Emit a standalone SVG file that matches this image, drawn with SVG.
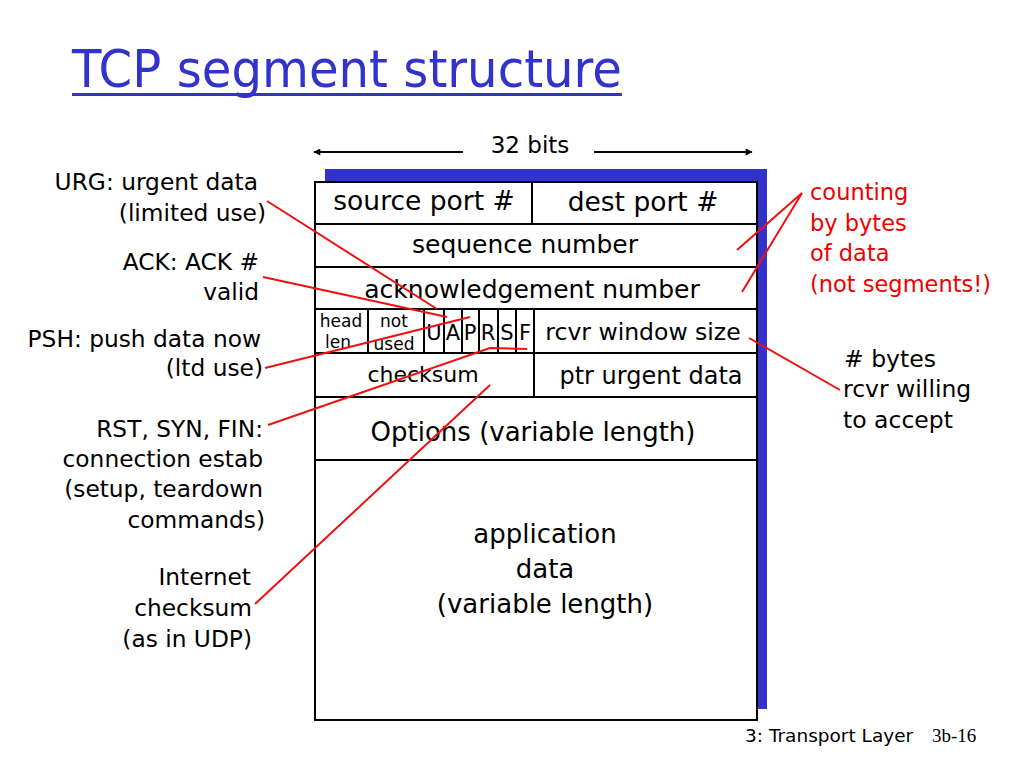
<svg xmlns="http://www.w3.org/2000/svg" width="1024" height="768" viewBox="0 0 1024 768">
<style>
text{font-family:"DejaVu Sans","Liberation Sans",sans-serif;fill:#000}
.c{text-anchor:middle}
.e{text-anchor:end}
.lbl{font-size:23.3px}
.rlbl{font-size:22.5px;fill:#ee0000}
.cell{fill:none;stroke:#000;stroke-width:2}
.rl{fill:none;stroke:#ee1111;stroke-width:2}
.ar{stroke:#000;stroke-width:2}
</style>
<defs>
<marker id="ah" viewBox="0 0 10 10" refX="9" refY="5" markerWidth="8" markerHeight="7" orient="auto-start-reverse" markerUnits="userSpaceOnUse">
<path d="M0,0 L10,5 L0,10 z" fill="#000"/>
</marker>
</defs>
<rect width="1024" height="768" fill="#fff"/>

<g id="title">
<text x="72" y="87" textLength="550" lengthAdjust="spacingAndGlyphs" style="font-size:52px;fill:#3333cc">TCP segment structure</text>
<rect x="72" y="93" width="550" height="3" fill="#3333cc"/>
</g>

<g id="width-label">
<text x="530" y="153" class="c" style="font-size:23px">32 bits</text>
<line x1="463" y1="152" x2="314" y2="152" class="ar" marker-end="url(#ah)"/>
<line x1="594" y1="152" x2="752" y2="152" class="ar" marker-end="url(#ah)"/>
</g>

<g id="segment">
<rect x="325" y="169" width="442" height="540" fill="#3333cc"/>
<rect x="315" y="182" width="442" height="538" fill="#fff" stroke="#000" stroke-width="2"/>
<line x1="315" y1="224" x2="757" y2="224" class="cell"/>
<line x1="315" y1="267" x2="757" y2="267" class="cell"/>
<line x1="315" y1="309" x2="757" y2="309" class="cell"/>
<line x1="315" y1="353" x2="757" y2="353" class="cell"/>
<line x1="315" y1="397" x2="757" y2="397" class="cell"/>
<line x1="315" y1="460" x2="757" y2="460" class="cell"/>
<line x1="532" y1="182" x2="532" y2="224" class="cell"/>
<line x1="368" y1="309" x2="368" y2="353" class="cell"/>
<line x1="424" y1="309" x2="424" y2="353" class="cell"/>
<line x1="444" y1="309" x2="444" y2="353" class="cell"/>
<line x1="462" y1="309" x2="462" y2="353" class="cell"/>
<line x1="479" y1="309" x2="479" y2="353" class="cell"/>
<line x1="498" y1="309" x2="498" y2="353" class="cell"/>
<line x1="516" y1="309" x2="516" y2="353" class="cell"/>
<line x1="534" y1="309" x2="534" y2="397" class="cell"/>

<text x="424" y="210" class="c" style="font-size:26.5px">source port #</text>
<text x="643" y="211" class="c" style="font-size:26.5px">dest port #</text>
<text x="525" y="253" class="c" style="font-size:25px">sequence number</text>
<text x="532" y="298" class="c" style="font-size:25px">acknowledgement number</text>
<text x="341" y="327" class="c" style="font-size:17px">head</text>
<text x="338" y="348" class="c" style="font-size:17px">len</text>
<text x="394" y="327" class="c" style="font-size:17px">not</text>
<text x="394" y="350" class="c" style="font-size:17px">used</text>
<text x="434" y="340" class="c" style="font-size:21px">U</text>
<text x="453" y="340" class="c" style="font-size:21px">A</text>
<text x="470" y="340" class="c" style="font-size:21px">P</text>
<text x="488" y="340" class="c" style="font-size:21px">R</text>
<text x="507" y="340" class="c" style="font-size:21px">S</text>
<text x="525" y="340" class="c" style="font-size:21px">F</text>
<text x="643" y="340" class="c" style="font-size:23.5px">rcvr window size</text>
<text x="423" y="382" class="c" style="font-size:22px">checksum</text>
<text x="651" y="384" class="c" style="font-size:24px">ptr urgent data</text>
<text x="533" y="441" class="c" style="font-size:26px">Options (variable length)</text>
<text x="545" y="543" class="c" style="font-size:26px">application</text>
<text x="545" y="578" class="c" style="font-size:26px">data</text>
<text x="545" y="613" class="c" style="font-size:26px">(variable length)</text>
</g>

<g id="urg-label">
<text x="258" y="190" class="e lbl">URG: urgent data</text>
<text x="266" y="221" class="e lbl">(limited use)</text>
</g>
<g id="ack-label">
<text x="259" y="270" class="e lbl">ACK: ACK #</text>
<text x="259" y="300" class="e lbl">valid</text>
</g>
<g id="psh-label">
<text x="261" y="347" class="e lbl">PSH: push data now</text>
<text x="263" y="376" class="e lbl">(ltd use)</text>
</g>
<g id="rst-label">
<text x="263" y="437" class="e lbl">RST, SYN, FIN:</text>
<text x="263" y="467" class="e lbl">connection estab</text>
<text x="263" y="497" class="e lbl">(setup, teardown</text>
<text x="265" y="528" class="e lbl">commands)</text>
</g>
<g id="checksum-label">
<text x="251" y="585" class="e lbl">Internet</text>
<text x="252" y="616" class="e lbl">checksum</text>
<text x="252" y="647" class="e lbl">(as in UDP)</text>
</g>
<g id="counting-label">
<text x="810" y="200" class="rlbl">counting</text>
<text x="810" y="231" class="rlbl">by bytes</text>
<text x="810" y="261" class="rlbl">of data</text>
<text x="810" y="292" class="rlbl">(not segments!)</text>
</g>
<g id="window-label">
<text x="844" y="367" style="font-size:23.5px"># bytes</text>
<text x="843" y="397" style="font-size:23.5px">rcvr willing</text>
<text x="843" y="428" style="font-size:23.5px">to accept</text>
</g>

<g id="connectors">
<line x1="267" y1="201" x2="437" y2="309" class="rl"/>
<line x1="263" y1="277" x2="447" y2="317" class="rl"/>
<line x1="265" y1="368" x2="470" y2="317" class="rl"/>
<polyline points="268,425 490,348 527,349" class="rl"/>
<line x1="255" y1="604" x2="490" y2="385" class="rl"/>
<polyline points="737,250 802,193 742,292" class="rl"/>
<line x1="749" y1="338" x2="840" y2="390" class="rl"/>
</g>

<g id="footer">
<text x="745" y="742" style="font-size:18.5px">3: Transport Layer</text>
<text x="932" y="742" style="font-family:'Liberation Serif',serif;font-size:19px">3b-16</text>
</g>
</svg>
